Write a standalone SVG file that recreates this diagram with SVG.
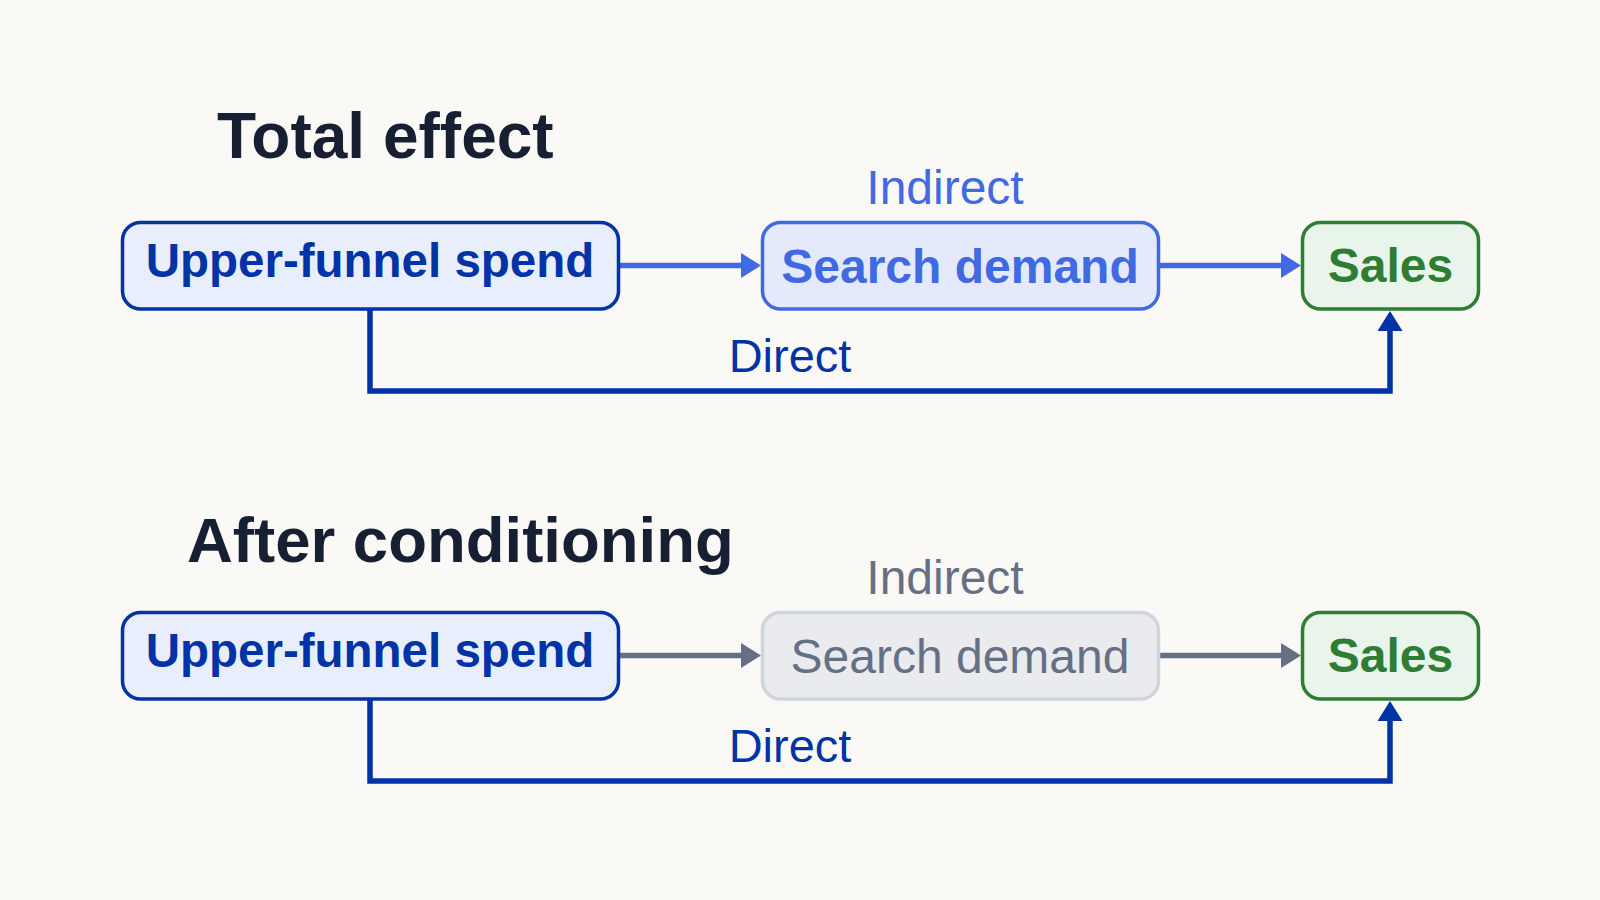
<svg xmlns="http://www.w3.org/2000/svg" width="1600" height="900" viewBox="0 0 1600 900">
  <style>
    text { font-family: "Liberation Sans", Arial, sans-serif; }
    .title { font-size: 64px; font-weight: bold; fill: #172033; }
    .node { font-size: 48px; text-anchor: middle; }
    .b { font-weight: bold; }
    .lbl { font-size: 48px; text-anchor: middle; }
    .upper rect { fill: #e8eefc; stroke: #0033a6; stroke-width: 3.5; }
    .upper text { fill: #0033a6; }
    .search rect { fill: #e4eafc; stroke: #4169e1; stroke-width: 3.5; }
    .search text { fill: #4169e1; }
    .searchg rect { fill: #e9ebef; stroke: #d0d5dd; stroke-width: 3.5; }
    .searchg text { fill: #667085; }
    .sales rect { fill: #e9f4ea; stroke: #2e7d32; stroke-width: 3.5; }
    .sales text { fill: #2e7d32; }
    .edge { fill: none; stroke-width: 5.5; stroke-linejoin: miter; }
  </style>
  <defs>
    <marker id="hBlue" viewBox="0 0 20 25" refX="0" refY="12.5" markerWidth="20" markerHeight="25" markerUnits="userSpaceOnUse" orient="auto">
      <path d="M0,0 L20,12.5 L0,25 Z" fill="#4169e1"/>
    </marker>
    <marker id="hDark" viewBox="0 0 20 25" refX="0" refY="12.5" markerWidth="20" markerHeight="25" markerUnits="userSpaceOnUse" orient="auto">
      <path d="M0,0 L20,12.5 L0,25 Z" fill="#0033a6"/>
    </marker>
    <marker id="hGrey" viewBox="0 0 20 25" refX="0" refY="12.5" markerWidth="20" markerHeight="25" markerUnits="userSpaceOnUse" orient="auto">
      <path d="M0,0 L20,12.5 L0,25 Z" fill="#667085"/>
    </marker>
  </defs>
  <rect width="1600" height="900" fill="#faf9f6"/>

  <g id="connectors">
    <path class="edge" d="M620,265.5 H741" stroke="#4169e1" marker-end="url(#hBlue)"/>
    <path class="edge" d="M1160,265.5 H1281" stroke="#4169e1" marker-end="url(#hBlue)"/>
    <path class="edge" d="M370,310 V391 H1390 V331" stroke="#0033a6" marker-end="url(#hDark)"/>
    <text class="lbl" x="945" y="204" fill="#4169e1">Indirect</text>
    <text class="lbl" x="790" y="372" fill="#0033a6" style="font-size:47px">Direct</text>

    <path class="edge" d="M620,655.5 H741" stroke="#667085" marker-end="url(#hGrey)"/>
    <path class="edge" d="M1160,655.5 H1281" stroke="#667085" marker-end="url(#hGrey)"/>
    <path class="edge" d="M370,700 V781 H1390 V721" stroke="#0033a6" marker-end="url(#hDark)"/>
    <text class="lbl" x="945" y="594" fill="#667085">Indirect</text>
    <text class="lbl" x="790" y="762" fill="#0033a6" style="font-size:47px">Direct</text>
  </g>

  <text class="title" x="217" y="158">Total effect</text>
  <text class="title" x="187" y="562" style="font-size:63.5px">After conditioning</text>

  <g id="upper1" class="upper">
    <rect x="122.5" y="222.5" width="496" height="86.5" rx="18"/>
    <text class="node b" x="370" y="277" style="font-size:47.5px">Upper-funnel spend</text>
  </g>
  <g id="search1" class="search">
    <rect x="762.5" y="222.5" width="396" height="86.5" rx="18"/>
    <text class="node b" x="960" y="283">Search demand</text>
  </g>
  <g id="sales1" class="sales">
    <rect x="1302.5" y="222.5" width="176" height="86.5" rx="18"/>
    <text class="node b" x="1390.5" y="282">Sales</text>
  </g>

  <g id="upper2" class="upper">
    <rect x="122.5" y="612.5" width="496" height="86.5" rx="18"/>
    <text class="node b" x="370" y="667" style="font-size:47.5px">Upper-funnel spend</text>
  </g>
  <g id="search2" class="searchg">
    <rect x="762.5" y="612.5" width="396" height="86.5" rx="18"/>
    <text class="node" x="960" y="673">Search demand</text>
  </g>
  <g id="sales2" class="sales">
    <rect x="1302.5" y="612.5" width="176" height="86.5" rx="18"/>
    <text class="node b" x="1390.5" y="672">Sales</text>
  </g>
</svg>
